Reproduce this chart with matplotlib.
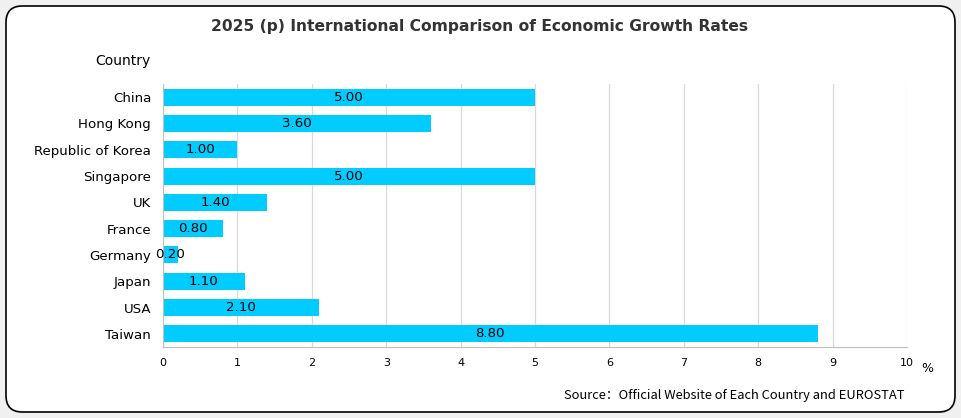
import matplotlib.pyplot as plt
from matplotlib.patches import FancyBboxPatch

countries = ["China", "Hong Kong", "Republic of Korea", "Singapore", "UK",
             "France", "Germany", "Japan", "USA", "Taiwan"]
growth = [5.00, 3.60, 1.00, 5.00, 1.40, 0.80, 0.20, 1.10, 2.10, 8.80]
xticks = list(range(0, 11))

barColor = "#00CCFF"
gridColor = "#D9D9D9"
axisColor = "#BFBFBF"

fig = plt.figure(figsize=(9.62, 4.18), dpi=100)
fig.patch.set_facecolor("#F0F0F0")

# rounded white frame, kept behind the axes
frame = FancyBboxPatch((6 / 962, 6 / 418), 949 / 962, 406 / 418,
                       boxstyle="round,pad=0,rounding_size=0.017",
                       transform=fig.transFigure, facecolor="white",
                       edgecolor="black", linewidth=1.2, mutation_aspect=962 / 418,
                       zorder=-10)
fig.patches.append(frame)

ax = fig.add_axes([163 / 962, 1 - 347 / 418, 744 / 962, 263 / 418])
ax.set_facecolor("none")
ax.set_zorder(5)

ypos = list(range(len(countries)))
bars = ax.barh(ypos, growth, height=0.65, color=barColor, zorder=2)
ax.bar_label(bars, labels=[f"{v:.2f}" for v in growth], label_type="center",
             fontsize=9.6, family="DejaVu Sans", color="black")

ax.set_yticks(ypos)
ax.set_yticklabels(countries, fontsize=9.6, family="DejaVu Sans")
ax.set_ylim(len(countries) - 0.5, -0.5)
ax.set_xlim(0, 10)
ax.set_xticks(xticks)
ax.set_xticklabels([str(t) for t in xticks], fontsize=8, family="DejaVu Sans")

ax.grid(axis="x", color=gridColor, linewidth=0.9, zorder=0)
ax.set_axisbelow(True)
for side in ["top", "right"]:
    ax.spines[side].set_visible(False)
ax.spines["left"].set_color(axisColor)
ax.spines["bottom"].set_color(axisColor)
ax.tick_params(axis="y", length=0, pad=8.5)
ax.tick_params(axis="x", length=0, pad=8)

fig.text(480 / 962, 1 - 27 / 418, "2025 (p) International Comparison of Economic Growth Rates",
         ha="center", va="center", fontsize=11.2, fontweight="bold",
         family="DejaVu Sans", color="#333333")
fig.text(123 / 962, 1 - 61 / 418, "Country", ha="center", va="center",
         fontsize=10, family="DejaVu Sans")
fig.text(927 / 962, 1 - 368 / 418, "%", ha="center", va="center",
         fontsize=9, family="DejaVu Sans")
fig.text(905 / 962, 1 - 395 / 418, "Source\uff1aOfficial Website of Each Country and EUROSTAT",
         ha="right", va="center", fontsize=9.3,
         family=["Noto Sans CJK SC", "DejaVu Sans"])

fig.savefig("out.png", dpi=100)
